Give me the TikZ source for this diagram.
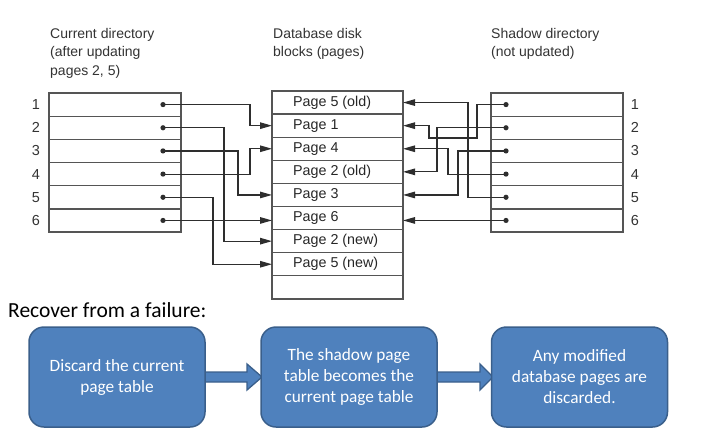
\documentclass[tikz,border=0pt]{standalone}
\usepackage{fontspec}
\setmainfont{Liberation Sans}
\newfontfamily\calfont{Carlito}
\usetikzlibrary{arrows.meta,calc}
\definecolor{tablegray}{HTML}{555555}
\definecolor{linegray}{HTML}{2E2E2E}
\definecolor{boxfill}{HTML}{4F81BD}
\definecolor{boxdraw}{HTML}{3A5F8B}
\begin{document}
\begin{tikzpicture}[x=1pt,y=-1pt,
  cell/.style={draw=tablegray, line width=1.3pt, minimum height=23.17pt, inner sep=0pt, outer sep=0pt, anchor=north west},
  midcell/.style={cell, minimum width=131pt, minimum height=23.1pt},
  dircell/.style={cell, minimum width=132pt},
  num/.style={font=\fontsize{14.5}{16}\selectfont, text=black!80, inner sep=0pt},
  pagetext/.style={font=\fontsize{14.3}{16}\selectfont, text=black!85, inner sep=0pt, anchor=west},
  header/.style={font=\fontsize{14}{18.5}\selectfont, text=black!80, align=left, inner sep=0pt, anchor=north west},
  conn/.style={draw=linegray, line width=1.2pt, -{Triangle[length=12pt,width=6.5pt]}},
  flowbox/.style={draw=boxdraw, line width=1.5pt, fill=boxfill, rounded corners=15pt, minimum width=176pt, minimum height=100pt, align=center, text=white, font=\calfont\fontsize{17.3}{21}\selectfont, inner sep=0pt},
  barrow/.style={draw=boxdraw, line width=1.3pt, fill=boxfill, line join=miter}
]
\useasboundingbox (0,0) rectangle (705,440);

% headers
\node[header] (h1) at (50,28) {Current directory\\(after updating\\pages 2, 5)};
\node[header] (h2) at (273,28) {Database disk\\blocks (pages)};
\node[header] (h3) at (491,28) {Shadow directory\\(not updated)};

% directories
\foreach \i in {1,...,6}{
  \node[dircell] (cur\i) at (49,{93+23.17*(\i-1)}) {};
  \node[num] (cn\i) at (36,{93+23.17*(\i-0.5)}) {\i};
  \coordinate (cd\i) at (163,{93+23.17*(\i-0.5)});
  \node[dircell] (sh\i) at (491,{93+23.17*(\i-1)}) {};
  \node[num] (sn\i) at (635,{93+23.17*(\i-0.5)}) {\i};
  \coordinate (sd\i) at (506,{93+23.17*(\i-0.5)});
}
\foreach \i in {1,...,6}{
  \fill[linegray] (cd\i) circle (2.6pt);
  \fill[linegray] (sd\i) circle (2.6pt);
}

% database pages
\foreach \i/\t in {1/Page 5 (old),2/Page 1,3/Page 4,4/Page 2 (old),5/Page 3,6/Page 6,7/Page 2 (new),8/Page 5 (new),9/{}}{
  \node[midcell] (pg\i) at (272,{91+23.1*(\i-1)}) {};
  \node[pagetext] (pt\i) at ([xshift=21pt]pg\i.west) {\t};
}

% current directory connectors
\coordinate (va) at (250,0);
\coordinate (vb) at (224,0);
\coordinate (vc) at (238,0);
\coordinate (vd) at (213,0);
\draw[conn] (cd1) -- (cd1 -| va) |- (pg2.west);
\draw[conn] (cd2) -- (cd2 -| vb) |- (pg7.west);
\draw[conn] (cd3) -- (cd3 -| vc) |- (pg5.west);
\draw[conn] (cd4) -- (cd4 -| va) |- (pg3.west);
\draw[conn] (cd5) -- (cd5 -| vd) |- (pg8.west);
\draw[conn] (cd6) -- (cd6 -| pg6.west);

% shadow directory connectors
\coordinate (ja) at (477,138);
\coordinate (jb) at (429,138);
\coordinate (wb) at (437,0);
\coordinate (wc) at (458,0);
\coordinate (wd) at (448,0);
\coordinate (we) at (468,0);
\draw[conn] (sd1) -| (ja) -- (jb) |- (pg2.east);
\draw[conn] (sd2) -- (sd2 -| wb) |- (pg4.east);
\draw[conn] (sd3) -- (sd3 -| wc) |- (pg5.east);
\draw[conn] (sd4) -- (sd4 -| wd) |- (pg3.east);
\draw[conn] (sd5) -- (sd5 -| we) |- (pg1.east);
\draw[conn] (sd6) -- (sd6 -| pg6.east);

% recovery
\node[font=\calfont\fontsize{21.5}{24}\selectfont, anchor=base west, inner sep=0pt] (rec) at (8,317) {Recover from a failure:};

\coordinate (b1c) at (117,377);
\coordinate (b2c) at (349,377);
\coordinate (b3c) at (579.5,377);
\draw[barrow] ($(b1c)+(88,-5)$) -- ($(b1c)+(130,-5)$) -- ($(b1c)+(130,-13)$) -- ($(b2c)+(-87,0)$) -- ($(b1c)+(130,13)$) -- ($(b1c)+(130,5)$) -- ($(b1c)+(88,5)$);
\draw[barrow] ($(b2c)+(88,-5)$) -- ($(b2c)+(131,-5)$) -- ($(b2c)+(131,-13)$) -- ($(b3c)+(-86.5,0)$) -- ($(b2c)+(131,13)$) -- ($(b2c)+(131,5)$) -- ($(b2c)+(88,5)$);
\node[flowbox] (b1) at (b1c) {Discard the current\\page table};
\node[flowbox] (b2) at (b2c) {The shadow page\\table becomes the\\current page table};
\node[flowbox] (b3) at (b3c) {Any modified\\database pages are\\discarded.};
\end{tikzpicture}
\end{document}
